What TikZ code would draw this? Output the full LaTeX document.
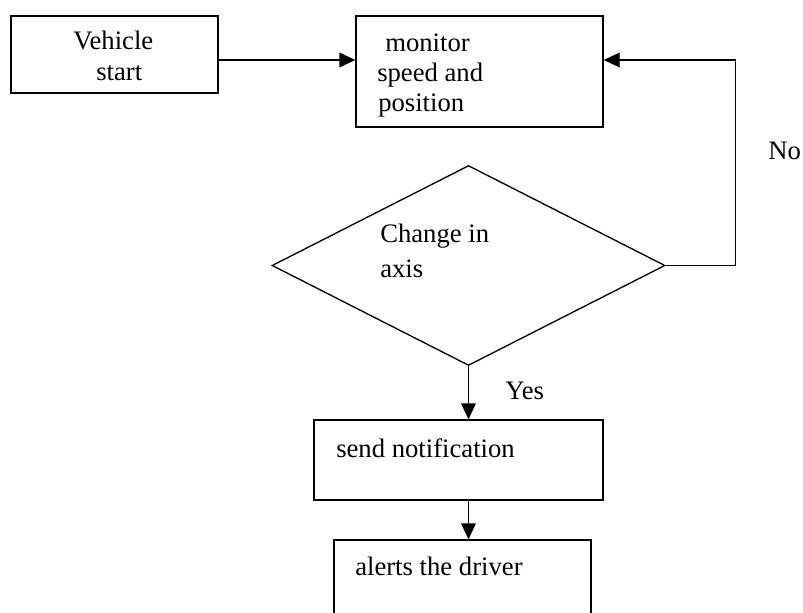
\documentclass[tikz,border=0pt]{standalone}
\usepackage{fontspec}
\setmainfont{Liberation Serif}
\usetikzlibrary{arrows.meta,shapes.geometric}
\begin{document}
\begin{tikzpicture}[x=0.75pt,y=-0.75pt,
  box/.style={draw,line width=1pt,rectangle,inner sep=0pt},
  txt/.style={anchor=base west,inner sep=0pt,font=\fontsize{20pt}{23pt}\selectfont},
  arr/.style={line width=1pt,-{Triangle[length=12pt,width=11pt]}},
  line/.style={line width=1pt}]
\clip (0,0) rectangle (803,613);
\fill[white] (0,0) rectangle (803,613);
% boxes
\node[box,minimum width=155.25pt,minimum height=57.75pt] (veh) at (114.5,54.5) {};
\node[box,minimum width=185.25pt,minimum height=83.25pt] (mon) at (479.5,71.5) {};
\node[draw,line width=1pt,diamond,inner sep=0pt,minimum width=294.75pt,minimum height=150pt] (dec) at (468.5,265.5) {};
\node[box,minimum width=216.75pt,minimum height=60pt] (send) at (458.5,460) {};
\node[box,minimum width=192.75pt,minimum height=67.5pt] (alert) at (462.5,585) {};
% texts
\node[txt] (t1) at (73,50) {Vehicle};
\node[txt] (t2) at (96,81) {start};
\node[txt] (t3) at (385,52) {monitor};
\node[txt] (t4) at (377,82) {speed and};
\node[txt] (t5) at (378,112) {position};
\node[txt] (t6) at (380,243) {Change in};
\node[txt] (t7) at (380,277) {axis};
\node[txt] (t8) at (336,457) {send notification};
\node[txt] (t9) at (355,575) {alerts the driver};
\node[txt] (yes) at (505,399) {Yes};
\node[txt] (no) at (768,160) {No};
% connectors
\coordinate (y60) at (0,60);
\draw[arr] (veh.east |- y60) -- (mon.west |- y60);
\draw[arr] (dec.east) -- ++(70,0) |- (mon.east |- y60);
\draw[arr] (dec.south) -- (dec.south |- send.north);
\draw[arr] (send.south -| dec.south) -- (alert.north -| dec.south);
\end{tikzpicture}
\end{document}
